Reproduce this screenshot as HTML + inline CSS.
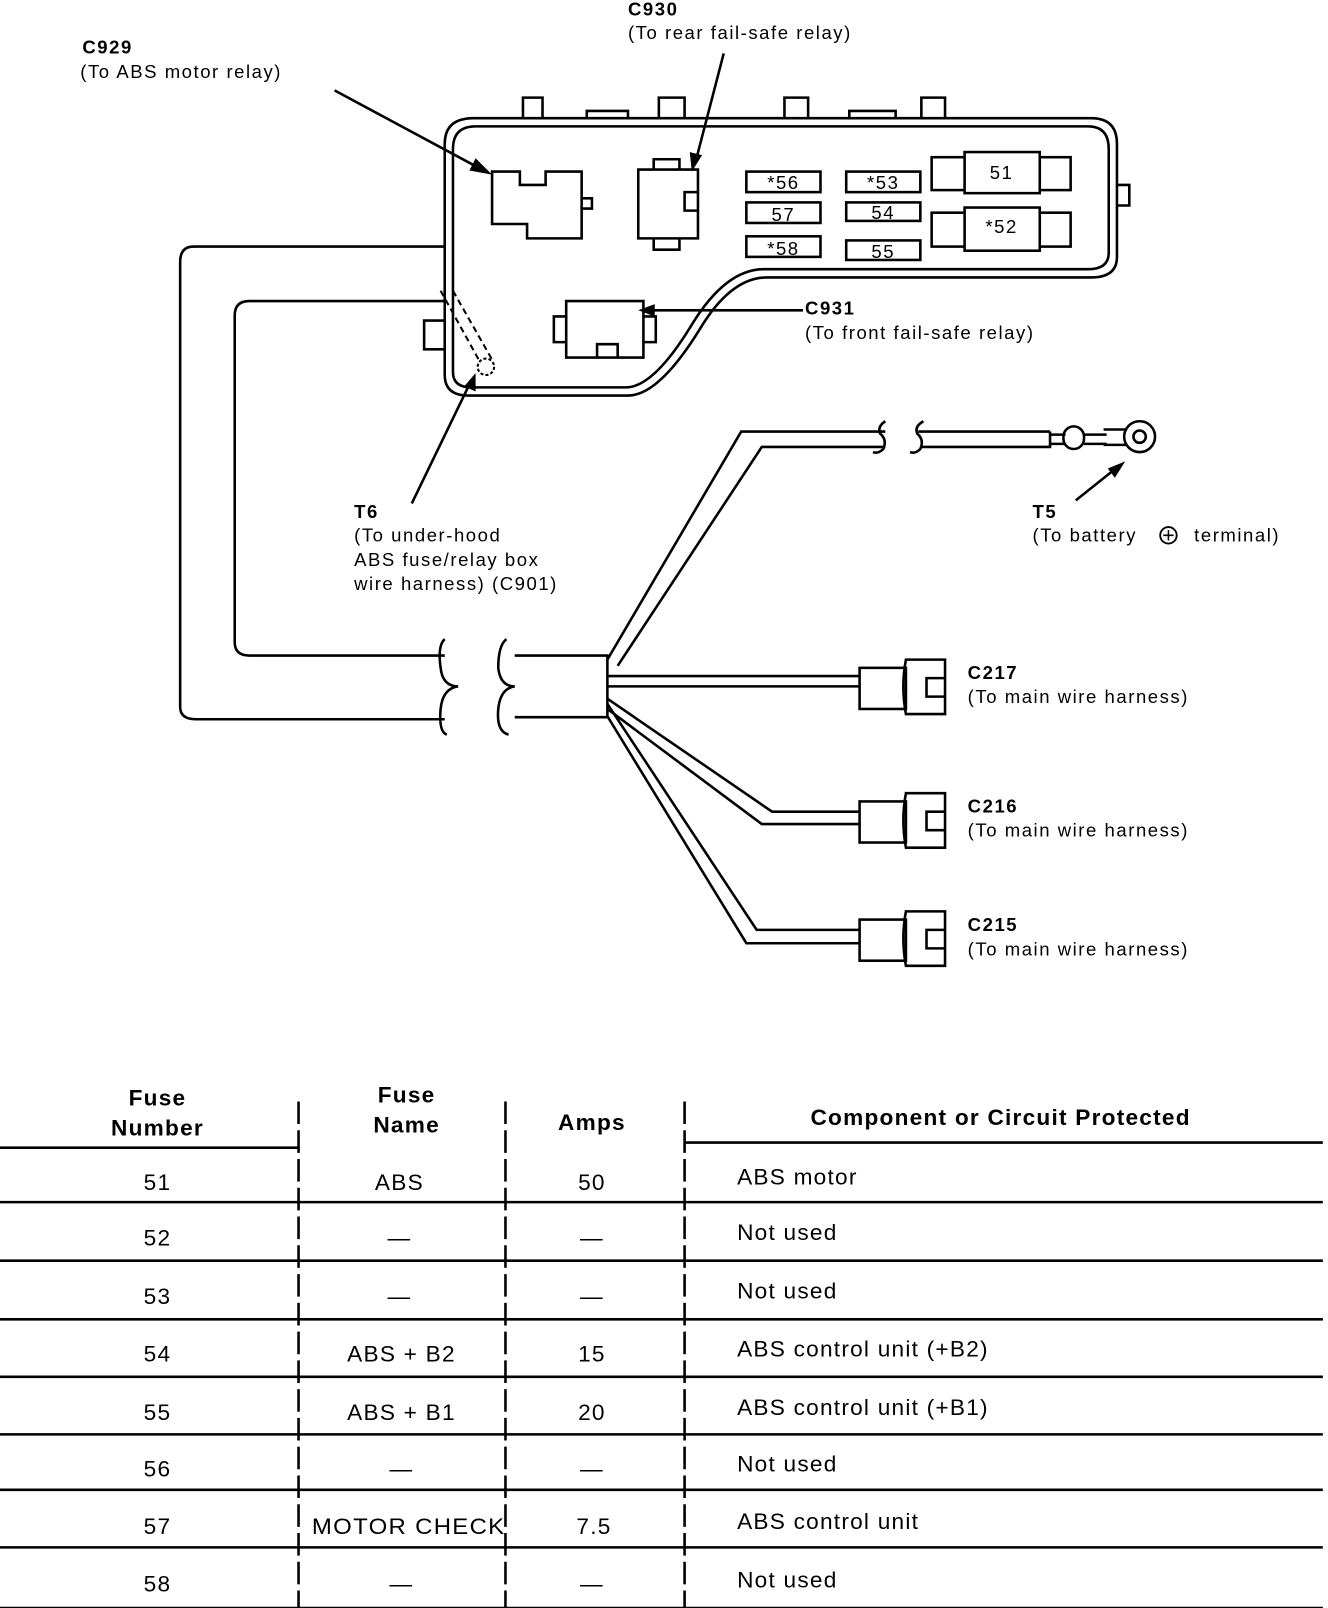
<!DOCTYPE html>
<html><head><meta charset="utf-8"><style>
html,body{margin:0;padding:0;background:#fff}
svg{display:block}
text{font-family:"Liberation Sans",sans-serif;fill:#000}
.l{font-size:18px;letter-spacing:1.5px}
.b{font-weight:bold}
.t{font-size:22px;letter-spacing:1.2px}
</style></head><body>
<svg width="1328" height="1608" viewBox="0 0 1290 1565" preserveAspectRatio="none" xmlns="http://www.w3.org/2000/svg">
<g fill="none" stroke="#000" stroke-width="2.5">
<path d="M432,365 L432,140 Q432,115 460,115 L1060,115 Q1085,115 1085,140 L1085,250 Q1085,270 1060,270 L745,270 Q710,270 680,320 Q640,385 610,385 L455,385 Q432,385 432,365 Z"/>
<path d="M440,362 L440,145 Q440,123 462,123 L1057,123 Q1077,123 1077,145 L1077,246 Q1077,262 1057,262 L742,262 Q705,262 672,316 Q635,377 608,377 L458,377 Q440,377 440,362 Z"/>
<path d="M508,115 V95 H527 V115 M640,115 V95 H665 V115 M762,115 V95 H785 V115 M895,115 V95 H918 V115"/>
<path d="M570,115 V108 H610 V115 M825,115 V108 H870 V115"/>
<path d="M1085,180 H1097 V200 H1085"/>
<path d="M432,312 H412 V340 H432"/>
<path d="M432,240 H188 Q175,240 175,255 V688 Q175,700 190,700 H432"/>
<path d="M432,293 H242 Q228,293 228,307 V625 Q228,638 242,638 H432"/>
<path d="M432,622 Q425,628 428,650 Q430,668 445,668 Q430,670 428,690 Q426,712 434,715"/>
<path d="M492,622 Q484,628 484,650 Q486,668 500,668 Q486,670 484,690 Q482,712 494,715"/>
<path d="M500,638 H590 V698 H500"/>
<path d="M590,642 L720,420 H860 M600,648 L740,435 H860"/>
<path d="M860,410 Q852,415 855,422 Q862,428 858,437 Q853,442 848,440 M897,410 Q888,415 891,422 Q898,428 894,437 Q889,442 884,440"/>
<path d="M892,420 H1020 M895,435 H1020 V420 M1020,423 H1035 M1020,432 H1035"/>
<rect x="1033" y="415" width="20" height="22" rx="10"/>
<path d="M1053,423 H1075 M1053,432 H1075 M1072,418 H1095 M1072,433 H1095"/>
<circle cx="1107" cy="425" r="15"/><circle cx="1107" cy="425" r="6"/>
<path d="M590,658 H835 M590,668 H835"/>
<path d="M590,680 L750,790 H835 M590,690 L740,802 H835"/>
<path d="M590,685 L735,905 H835 M590,697 L725,918 H835"/>
<g id="cn"><rect x="835" y="650" width="45" height="40"/><path d="M880,642 H918 V695 H880 Q875,668 880,642 Z M918,660 H900 V678 H918"/></g>
<use href="#cn" y="130"/><use href="#cn" y="245"/>
<rect x="725" y="167" width="72" height="20"/><rect x="725" y="197" width="72" height="20"/><rect x="725" y="230" width="72" height="20"/>
<rect x="822" y="167" width="72" height="20"/><rect x="822" y="197" width="72" height="18"/><rect x="822" y="234" width="72" height="19"/>
<rect x="905" y="153" width="135" height="32"/><rect x="937" y="148" width="73" height="40" fill="#fff"/>
<rect x="905" y="207" width="135" height="33"/><rect x="937" y="202" width="73" height="42" fill="#fff"/>
<path d="M478,167 H505 V180 H530 V167 H565 V232 H512 V218 H478 Z M565,193 H575 V203 H565"/>
<path d="M620,165 H678 V232 H620 Z M635,165 V155 H660 V165 M635,232 V243 H660 V232 M678,187 H665 V205 H678"/>
<path d="M550,293 H625 V348 H550 Z M550,308 H538 V333 H550 M625,308 H637 V333 H625 M580,348 V335 H600 V348"/>
<path d="M428,283 L465,350 M440,283 L478,350" stroke-dasharray="6,4" stroke-width="2"/>
<circle cx="472" cy="357" r="8" stroke-dasharray="3,2" stroke-width="2"/>
<path d="M325,88 L470,166 M703,52 L675,160 M780,302 L630,302 M400,490 L457,372 M1045,487 L1085,455"/>
</g>
<g fill="#000">
<path d="M478,170 L462,154 L456,166 Z"/><path d="M672,167 L670,148 L682,151 Z"/>
<path d="M620,302 L636,296 L636,308 Z"/><path d="M462,363 L462,381 L451,376 Z"/>
<path d="M1093,449 L1083,465 L1076,456 Z"/>
</g>
<g class="l">
<text x="80" y="52" class="b">C929</text><text x="78" y="76">(To ABS motor relay)</text>
<text x="610" y="15" class="b">C930</text><text x="610" y="38">(To rear fail-safe relay)</text>
<text x="782" y="306" class="b">C931</text><text x="782" y="330">(To front fail-safe relay)</text>
<text x="344" y="504" class="b">T6</text><text x="344" y="527">(To under-hood</text><text x="344" y="551">ABS fuse/relay box</text><text x="344" y="574">wire harness)  (C901)</text>
<text x="1003" y="504" class="b">T5</text><text x="1003" y="527">(To battery</text><text x="1160" y="527">terminal)</text>
<text x="940" y="661" class="b">C217</text><text x="940" y="684">(To main wire harness)</text>
<text x="940" y="791" class="b">C216</text><text x="940" y="814">(To main wire harness)</text>
<text x="940" y="906" class="b">C215</text><text x="940" y="930">(To main wire harness)</text>
<text x="761" y="184" text-anchor="middle">*56</text><text x="761" y="215" text-anchor="middle">57</text><text x="761" y="248" text-anchor="middle">*58</text>
<text x="858" y="184" text-anchor="middle">*53</text><text x="858" y="213" text-anchor="middle">54</text><text x="858" y="251" text-anchor="middle">55</text>
<text x="973" y="174" text-anchor="middle">51</text><text x="973" y="227" text-anchor="middle">*52</text>
</g>
<circle cx="1135" cy="521" r="8" fill="none" stroke="#000" stroke-width="1.8"/><path d="M1130,521 H1140 M1135,516 V526" stroke="#000" stroke-width="1.5"/>
<g stroke="#000" stroke-width="2.5" fill="none">
<path d="M0,1117 H290 M665,1112 H1285"/>
<path d="M0,1170 H1285 M0,1227 H1285 M0,1284 H1285 M0,1340 H1285 M0,1396 H1285 M0,1450 H1285 M0,1506 H1285 M0,1565 H1285"/>
<path d="M290,1072 V1565 M491,1072 V1565 M665,1072 V1565" stroke-dasharray="22,6"/>
</g>
<g class="t">
<g class="b" text-anchor="middle"><text x="153" y="1076">Fuse</text><text x="153" y="1105">Number</text><text x="395" y="1073">Fuse</text><text x="395" y="1102">Name</text><text x="575" y="1100">Amps</text><text x="972" y="1095">Component or Circuit Protected</text></g>
<g text-anchor="middle">
<text x="153" y="1158">51</text><text x="388" y="1158">ABS</text><text x="575" y="1158">50</text>
<text x="153" y="1212">52</text><text x="388" y="1212">—</text><text x="575" y="1212">—</text>
<text x="153" y="1269">53</text><text x="388" y="1269">—</text><text x="575" y="1269">—</text>
<text x="153" y="1325">54</text><text x="390" y="1325">ABS + B2</text><text x="575" y="1325">15</text>
<text x="153" y="1382">55</text><text x="390" y="1382">ABS + B1</text><text x="575" y="1382">20</text>
<text x="153" y="1437">56</text><text x="390" y="1437">—</text><text x="575" y="1437">—</text>
<text x="153" y="1493">57</text><text x="397" y="1493" textLength="188" lengthAdjust="spacingAndGlyphs">MOTOR CHECK</text><text x="577" y="1493">7.5</text>
<text x="153" y="1549">58</text><text x="390" y="1549">—</text><text x="575" y="1549">—</text>
</g>
<text x="716" y="1153">ABS motor</text><text x="716" y="1207">Not used</text><text x="716" y="1264">Not used</text>
<text x="716" y="1320">ABS control unit  (+B2)</text><text x="716" y="1377">ABS control unit  (+B1)</text>
<text x="716" y="1432">Not used</text><text x="716" y="1488">ABS control unit</text><text x="716" y="1545">Not used</text>
</g>
</svg>
</body></html>
